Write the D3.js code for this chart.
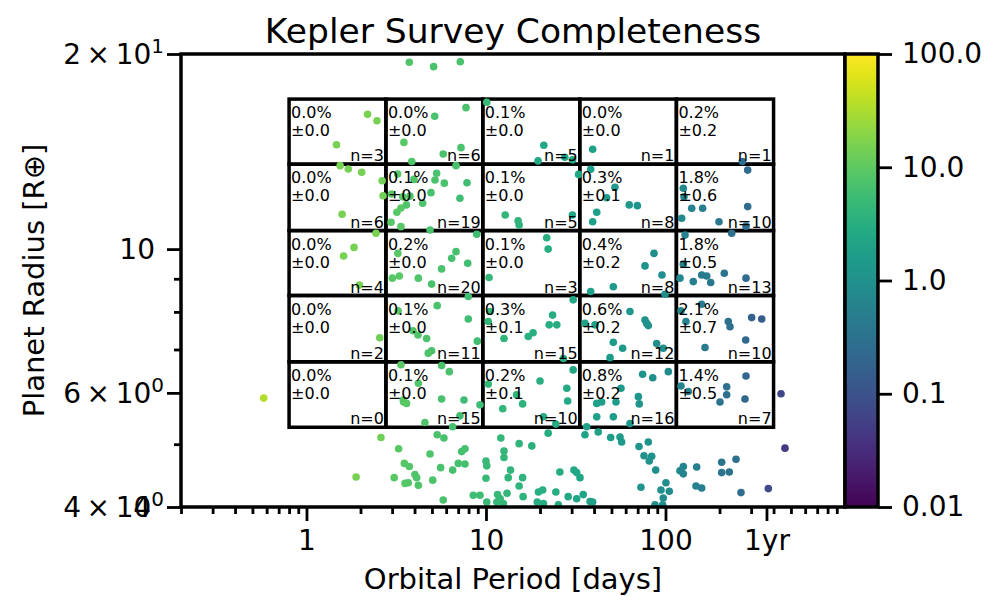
<!DOCTYPE html>
<html><head><meta charset="utf-8">
<script src="https://cdn.jsdelivr.net/npm/d3@7"></script>
<style>body{margin:0;background:#fff} svg{display:block} text{font-family:"DejaVu Sans",sans-serif;fill:#000}</style>
</head><body><svg id="c" width="1000" height="610"></svg>
<script>
// ---------- data ----------
const periods=[
3.74,5.11,7.19,0.578,
2.19,2.47,1.47,7.74,5.18,3.49,5.78,7.26,3.86,10.1,21.0,19.5,27.5,30.4,39.3,268,
1.54,1.71,2.03,2.64,2.67,1.58,6.81,3.22,2.98,3.44,3.36,3.97,5.31,5.20,5.86,7.84,3.77,4.94,4.44,7.16,3.19,2.96,3.36,4.88,3.6,
12.8,15.1,15.3,30.3,32.8,
38.3,52.3,47.0,41.4,62.8,69.7,39.3,
287,125.7,126.8,140,161,287,123.1,198.6,281,
2.44,1.84,1.61,1.97,
3.23,3.01,3.29,8.88,6.81,6.44,7.91,5.66,4.20,4.98,
21.8,22.2,10.4,
51.2,38.3,86.3,76.9,95.6,99.4,
128.5,233.8,125.7,120.4,142.8,159.1,169.7,178.6,212.6,280.9,
2.56,
3.24,7.97,5.35,3.92,4.18,4.67,7.97,8.95,4.98,4.77,
10.5,10.3,12.6,17.2,18.3,23.5,22.5,24.8,27.0,30.6,
35.6,40.5,51.2,57.7,49.1,63.4,76.9,78.6,80.2,89.3,97.2,
122,159,130,223.8,228.8,302,343.6,279.8,166,
3.36,3.48,5.66,6.25,4.20,3.46,3.61,5.66,7.54,9.26,7.16,4.57,6.52,
10.3,14.8,16.0,12.4,20.0,28.2,28.5,30.6,24.5,20.9,
41.4,44.1,53.0,41.4,51.2,36.4,74.6,84.9,103.7,70.6,71.4,63.4,56.5,
122,219.2,219.2,201.2,280.9,277.3,134,
440,463,374,
2.60,3.26,3.51,3.08,1.89,3.54,
5.35,5.83,4.88,7.32,7.64,3.74,7.01,7.64,6.52,5.59,4.02,4.11,5.05,3.69,4.20,5.78,
12.1,15.3,18.0,12.6,12.6,10.0,10.1,13.7,13.3,10.0,16.0,15.3,8.50,9.26,11.6,13.1,10.1,11.5,12.0,12.5,16.1,19.6,20.7,19.3,20.9,24.5,25.8,30.9,32.0,33.4,28.7,32.0,34.8,38.0,39.3,25.3,
22.2,35.6,42.2,49.5,55.8,57.0,
71.2,80.2,75.9,83.8,81.2,88.2,120.4,125.7,125.7,149.2,205.6,247.1,205.6,226.7,73.0,100.6,94.4,105.0,97.2,87.4,96.5,147.9,159.1,263.4
];
const radii=[
19.42,19.12,19.46,5.89,
16.14,15.78,14.49,16.53,16.03,14.61,14.02,14.34,13.65,16.85,14.46,13.68,13.86,13.73,14.26,13.65,
13.45,13.29,13.14,12.75,12.09,11.32,13.45,13.06,12.16,12.04,11.57,12.81,13.09,12.78,12.64,12.66,12.07,12.22,11.77,11.98,11.40,11.00,10.83,10.70,11.70,
11.29,11.06,10.89,11.29,13.04,
13.28,12.46,12.00,11.40,11.70,11.67,11.02,
13.24,12.41,12.04,11.56,11.56,11.63,11.16,11.02,10.85,
10.58,10.06,9.76,8.80,
9.85,9.02,9.09,10.54,9.91,9.68,9.51,9.32,9.02,8.83,
10.41,10.00,9.04,
8.75,8.60,9.85,9.42,9.12,8.52,
10.51,10.58,9.48,9.02,8.91,9.12,9.09,8.88,9.18,9.02,
7.30,
8.03,8.45,8.18,7.48,7.37,7.28,7.80,7.21,6.97,6.91,
8.01,7.73,7.28,7.33,7.43,7.91,7.64,7.64,6.78,8.35,
7.68,7.64,7.18,7.03,6.80,8.01,7.77,7.68,7.62,7.15,7.03,
8.03,8.22,7.73,7.73,7.59,7.84,7.80,7.24,7.05,
6.63,5.81,6.61,6.47,6.21,5.85,5.78,5.87,5.85,5.75,5.53,5.40,5.32,
6.19,5.96,5.77,5.67,6.26,6.10,5.83,6.51,5.37,5.51,
5.78,5.81,5.81,5.51,5.51,5.32,6.41,6.33,6.47,5.92,5.77,5.38,6.10,
6.15,6.13,5.96,5.81,6.37,5.87,6.03,
5.98,4.93,4.27,
5.12,4.92,4.67,4.44,4.45,4.35,
5.17,5.11,4.83,4.87,4.92,4.62,4.67,4.66,4.56,4.60,4.49,4.44,4.40,4.36,4.32,4.10,
5.11,5.01,4.97,4.88,4.77,4.71,4.63,4.56,4.44,4.43,4.44,4.31,4.17,4.17,4.18,4.20,4.07,4.07,4.12,4.05,4.15,4.22,4.25,4.07,4.05,4.22,4.53,4.56,4.52,4.44,4.15,4.12,4.18,4.08,4.07,4.03,
5.20,5.17,5.22,5.12,5.13,5.04,
4.96,5.04,4.80,4.79,4.71,4.56,4.55,4.62,4.50,4.61,4.69,4.74,4.52,4.53,4.29,4.36,4.25,4.23,4.13,4.03,4.03,4.31,4.28,4.21
];
const completeness=[
8,7,7,35,
15,15,15,7,7,9,7,7,8,5,2.5,2.5,2.5,2.3,1.8,0.28,
15,15,15,14,14,15,7,9,9,9,9,8,7,7,7,6,8,7,8,6,9,9,9,7,8,
4.5,4,4,2.5,2.3,
1.8,1.5,1.6,1.7,1.3,1.2,1.8,
0.25,0.7,0.7,0.6,0.5,0.25,0.7,0.4,0.25,
15,15,15,15,
9,9,9,6,6.5,6.5,6,7,8,7,
3,3,4.5,
1.5,1.8,1.0,1.1,0.9,0.9,
0.6,0.3,0.6,0.7,0.5,0.45,0.45,0.4,0.35,0.25,
14,
9,6,7,8,8,7.5,6,6,7,7.5,
4.5,4.5,4,3.5,3.5,3,3,3,2.8,2.5,
2,1.8,1.5,1.4,1.5,1.3,1.1,1.1,1.1,1.0,0.9,
0.7,0.5,0.6,0.3,0.3,0.18,0.15,0.22,0.45,
9,9,7,7,8,9,9,7,6,5.5,6,7.5,6.5,
4.5,4,3.8,4.2,3.2,2.6,2.6,2.4,2.8,3,
1.8,1.7,1.5,1.8,1.6,2,1.1,1.0,0.85,1.2,1.2,1.3,1.4,
0.65,0.3,0.3,0.32,0.22,0.22,0.6,
0.07,0.05,0.08,
13,9,9,9,15,9,
7,7,7.5,6.5,6.5,8.5,6.5,6.5,6.5,7,8,8,7.5,8.5,8,7,
4.5,4,3.5,4.5,4.5,5,5,4.2,4.2,5,3.8,4,5.5,5.5,4.8,4.3,5,4.8,4.8,4.6,3.8,3.3,3.2,3.3,3.2,2.9,2.8,2.5,2.4,2.3,2.6,2.4,2.2,2.0,2.0,2.8,
3.0,2.0,1.8,1.6,1.5,1.5,
1.2,1.1,1.15,1.05,1.1,1.0,0.7,0.65,0.65,0.55,0.35,0.3,0.35,0.32,1.15,0.9,0.95,0.85,0.9,1.0,0.95,0.55,0.5,0.25
];
// grid bins (radius bins listed from smallest to largest)
const periodEdges=[0.8,2.77,9.6,33.3,115,400];
const radiusEdges=[5.31,6.70,8.48,10.68,13.52,17.04];
const occurrence=[
[0.0,0.1,0.2,0.8,1.4],
[0.0,0.1,0.3,0.6,2.1],
[0.0,0.2,0.1,0.4,1.8],
[0.0,0.1,0.1,0.3,1.8],
[0.0,0.0,0.1,0.0,0.2]];
const occurrenceErr=[
[0.0,0.0,0.1,0.2,0.5],
[0.0,0.0,0.1,0.2,0.7],
[0.0,0.0,0.0,0.2,0.5],
[0.0,0.0,0.0,0.1,0.6],
[0.0,0.0,0.0,0.0,0.2]];
const binCounts=[
[0,15,10,16,7],
[2,11,15,12,10],
[4,20,3,8,13],
[6,19,5,8,10],
[3,6,5,1,1]];
const xTickValues=[1,10,100,365.25];
const xTickLabels=["1","10","100","1yr"];
const yTickValues=[20,10,6,4];
const yTickLabels=[["2\u2009×\u200910","1"],["10",""],["6\u2009×\u200910","0"],["4\u2009×\u200910","0"]];
const yMinorValues=[5,7,8,9];
const cbarTicks=[100,10,1,0.1,0.01];
const cbarLabels=["100.0","10.0","1.0","0.1","0.01"];

// ---------- drawing ----------
const L=181,R=845,T=54,B=507;
const svg=d3.select("#c");
const x=d3.scaleLog().domain([0.2,1000]).range([L,R]);
const y=d3.scaleLog().domain([4,20]).range([B,T]);
const cs=d3.scaleLog().domain([0.01,100]).range([0,1]);
const cb=d3.scaleLog().domain([0.01,100]).range([B,T]);
const color=v=>d3.interpolateViridis(Math.max(0,Math.min(1,cs(v))));

const defs=svg.append("defs");
defs.append("clipPath").attr("id","clip").append("rect")
  .attr("x",L).attr("y",T).attr("width",R-L).attr("height",B-T);
const grad=defs.append("linearGradient").attr("id","vir")
  .attr("x1",0).attr("y1",1).attr("x2",0).attr("y2",0);
d3.range(0,1.0001,0.05).forEach(t=>grad.append("stop").attr("offset",t).attr("stop-color",d3.interpolateViridis(t)));

const plot=svg.append("g").attr("clip-path","url(#clip)");

// grid cells
const cells=[];
for(let j=0;j<5;j++)for(let i=0;i<5;i++)cells.push({i,j});
plot.selectAll("rect.cell").data(cells).join("rect").attr("class","cell")
  .attr("x",d=>x(periodEdges[d.i])).attr("y",d=>y(radiusEdges[d.j+1]))
  .attr("width",d=>x(periodEdges[d.i+1])-x(periodEdges[d.i]))
  .attr("height",d=>y(radiusEdges[d.j])-y(radiusEdges[d.j+1]))
  .attr("fill","none").attr("stroke","#000").attr("stroke-width",3.5);

// points
const pts=periods.map((p,k)=>({p,r:radii[k],c:completeness[k]}));
plot.selectAll("circle").data(pts).join("circle")
  .attr("cx",d=>x(d.p)).attr("cy",d=>y(d.r)).attr("r",3.8)
  .attr("fill",d=>color(d.c));

// cell texts
const tg=svg.append("g").style("font-size","16px");
cells.forEach(d=>{
  const x0=x(periodEdges[d.i]),x1=x(periodEdges[d.i+1]);
  const y0=y(radiusEdges[d.j+1]),y1=y(radiusEdges[d.j]);
  tg.append("text").attr("x",x0+2).attr("y",y0+19).text(occurrence[d.j][d.i].toFixed(1)+"%");
  tg.append("text").attr("x",x0+2).attr("y",y0+37).text("±"+occurrenceErr[d.j][d.i].toFixed(1));
  tg.append("text").attr("x",x1-2).attr("y",y1-3).attr("text-anchor","end").text("n="+binCounts[d.j][d.i]);
});

// frame
svg.append("rect").attr("x",L).attr("y",T).attr("width",R-L).attr("height",B-T)
  .attr("fill","none").attr("stroke","#000").attr("stroke-width",3.5);

// x axis
const xMinor=[];
for(let d=-1;d<=2;d++)for(let k=1;k<=9;k++){const v=k*Math.pow(10,d);if(v>=0.2&&v<1000&&k!==1)xMinor.push(v);}
const xAxMinor=d3.axisBottom(x).tickValues(xMinor).tickSize(7).tickFormat("");
const xAxMajor=d3.axisBottom(x).tickValues(xTickValues).tickSize(14).tickFormat((d,i)=>xTickLabels[i]).tickPadding(9);
const gxm=svg.append("g").attr("transform",`translate(0,${B})`).call(xAxMinor);
const gx=svg.append("g").attr("transform",`translate(0,${B})`).call(xAxMajor);
[gxm,gx].forEach(g=>{g.select(".domain").remove();g.selectAll("line").attr("stroke","#000").attr("stroke-width",2.8);});
gx.selectAll("text").style("font-size","28px").style("font-family","DejaVu Sans").attr("fill","#000");

// y axis
const yAxMinor=d3.axisLeft(y).tickValues(yMinorValues).tickSize(7).tickFormat("");
const yAxMajor=d3.axisLeft(y).tickValues(yTickValues).tickSize(14).tickFormat("");
const gym=svg.append("g").attr("transform",`translate(${L},0)`).call(yAxMinor);
const gy=svg.append("g").attr("transform",`translate(${L},0)`).call(yAxMajor);
[gym,gy].forEach(g=>{g.select(".domain").remove();g.selectAll("line").attr("stroke","#000").attr("stroke-width",2.8);});
const yl=svg.append("g").style("font-size","28px");
yTickValues.forEach((v,i)=>{
  const lab=yTickLabels[i];
  if(lab[1]===""){
    yl.append("text").attr("x",155).attr("y",y(v)+10).attr("text-anchor","end").text(lab[0]);
  } else {
    const t=yl.append("text").attr("x",164).attr("y",y(v)+10).attr("text-anchor","end");
    t.append("tspan").text(lab[0]);
    t.append("tspan").attr("dy",-11).style("font-size","20px").text(lab[1]);
  }
});
yl.append("text").attr("x",151).attr("y",y(4)+10).attr("text-anchor","end").text("4");

// colorbar
const CL=845,CR=878;
svg.append("rect").attr("x",CL).attr("y",T).attr("width",CR-CL).attr("height",B-T).attr("fill","url(#vir)");
svg.append("rect").attr("x",CL).attr("y",T).attr("width",CR-CL).attr("height",B-T)
  .attr("fill","none").attr("stroke","#000").attr("stroke-width",3.5);
const cAx=d3.axisRight(cb).tickValues(cbarTicks).tickSize(14).tickPadding(10).tickFormat((d,i)=>cbarLabels[i]);
const gc=svg.append("g").attr("transform",`translate(${CR},0)`).call(cAx);
gc.select(".domain").remove();
gc.selectAll("line").attr("stroke","#000").attr("stroke-width",2.8);
gc.selectAll("text").style("font-size","28px").style("font-family","DejaVu Sans").attr("fill","#000");

// titles
svg.append("text").attr("x",(L+R)/2).attr("y",43).attr("text-anchor","middle").style("font-size","34.5px").text("Kepler Survey Completeness");
svg.append("text").attr("x",(L+R)/2).attr("y",589).attr("text-anchor","middle").style("font-size","29px").text("Orbital Period [days]");
svg.append("text").attr("transform",`translate(44,${(T+B)/2}) rotate(-90)`).attr("text-anchor","middle").style("font-size","29px").text("Planet Radius [R⊕]");
</script></body></html>
